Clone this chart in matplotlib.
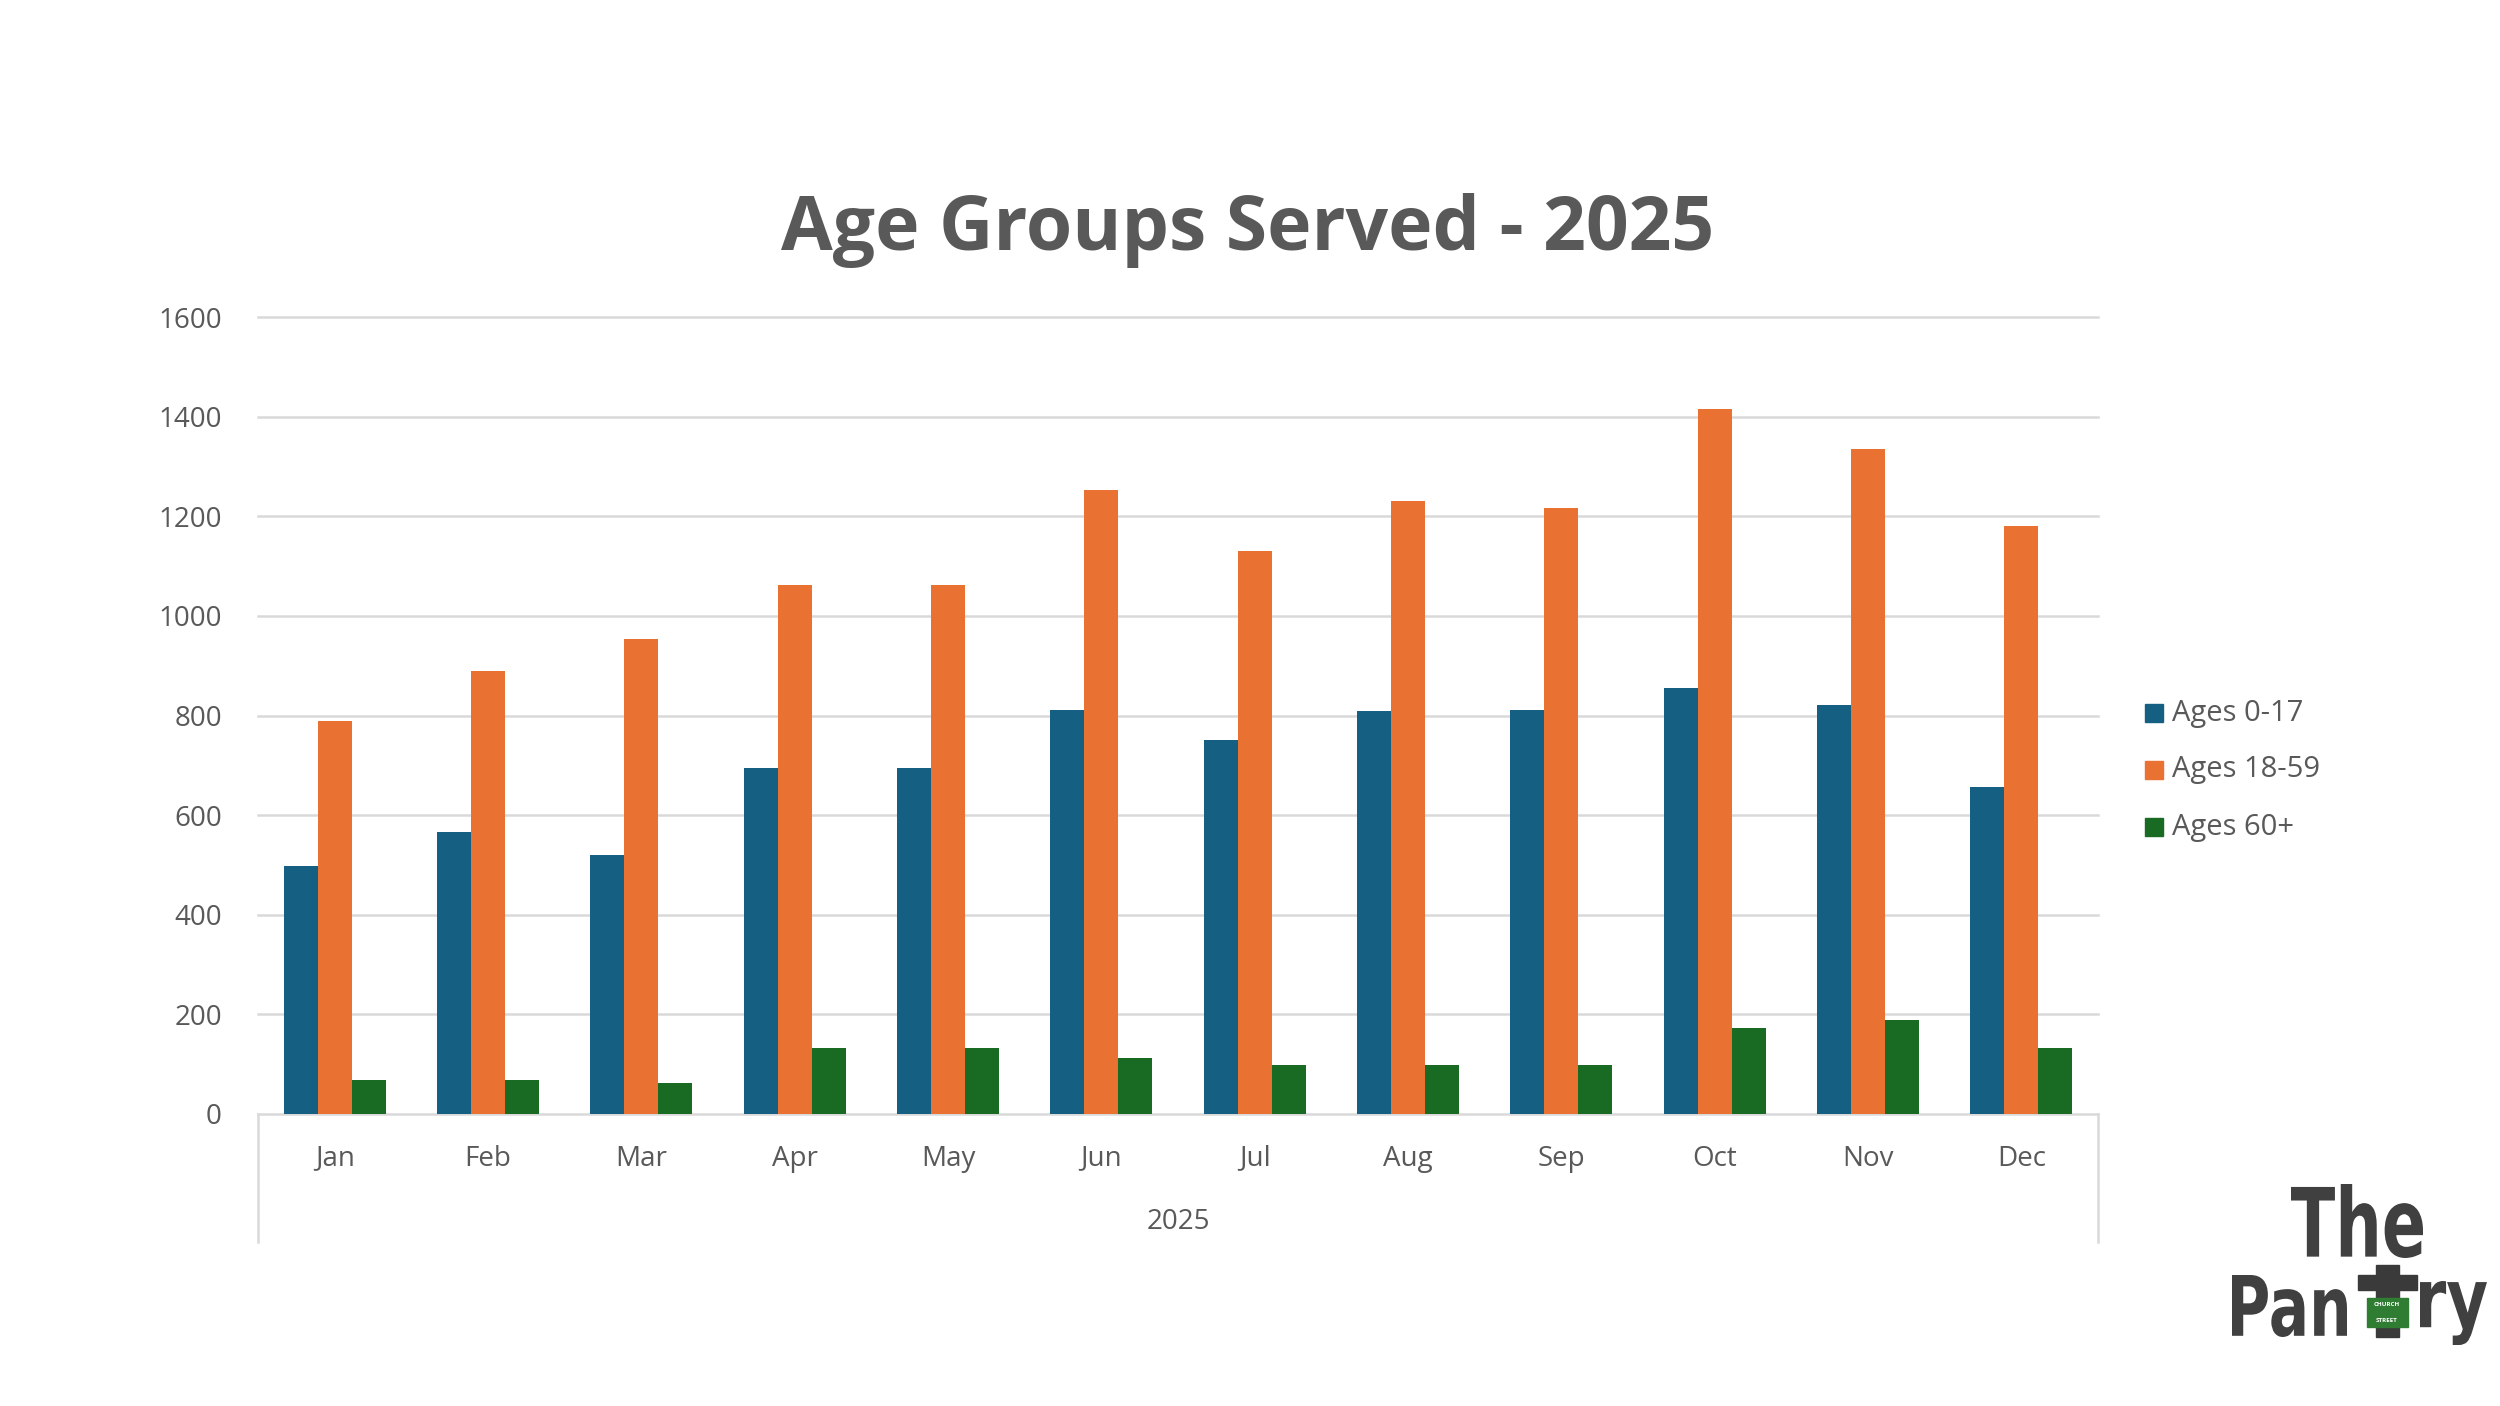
import numpy as np
import matplotlib.pyplot as plt
from matplotlib.patches import Rectangle, PathPatch
from matplotlib.textpath import TextPath
from matplotlib.font_manager import FontProperties
from matplotlib.transforms import Affine2D

# Monthly counts
months = ["Jan", "Feb", "Mar", "Apr", "May", "Jun", "Jul", "Aug", "Sep", "Oct", "Nov", "Dec"]
series_names = ["Ages 0-17", "Ages 18-59", "Ages 60+"]
ages_0_17 = [497, 566, 519, 694, 694, 812, 750, 809, 812, 855, 822, 657]
ages_18_59 = [789, 889, 953, 1062, 1062, 1253, 1130, 1230, 1217, 1415, 1335, 1181]
ages_60_plus = [68, 68, 62, 133, 133, 113, 99, 99, 99, 172, 189, 133]
year_label = "2025"
y_ticks = [0, 200, 400, 600, 800, 1000, 1200, 1400, 1600]

colors = ["#156082", "#E97132", "#196B24"]
text_color = "#595959"
grid_color = "#D9D9D9"

plt.rcParams['font.family'] = ['Open Sans', 'DejaVu Sans']

W, H = 2500, 1406
fig = plt.figure(figsize=(25, 14.06), dpi=100)
ax = fig.add_axes([258 / W, 1 - 1114 / H, (2098 - 258) / W, (1114 - 317) / H])

x = np.arange(len(months))
bar_w = 0.222
for i, (vals, c) in enumerate(zip([ages_0_17, ages_18_59, ages_60_plus], colors)):
    ax.bar(x + (i - 1) * bar_w, vals, width=bar_w, color=c, zorder=3)

ax.set_xlim(-0.5, len(months) - 0.5)
ax.set_ylim(0, 1600)
ax.set_yticks(y_ticks)
ax.set_xticks(x)
ax.set_xticklabels(months)
ax.tick_params(axis="both", length=0, labelsize=20, labelcolor=text_color)
ax.tick_params(axis="x", pad=22)
ax.tick_params(axis="y", pad=26)
for s in ax.spines.values():
    s.set_visible(False)
for t in y_ticks:
    ax.axhline(t, color=grid_color, lw=1.8, zorder=1, clip_on=False)

# multi-level category box under the axis
box_bottom = 1 - 1242 / H
axis_y = 1 - 1114 / H
for xe in [258 / W, 2098 / W]:
    fig.add_artist(plt.Line2D([xe, xe], [box_bottom, axis_y], color=grid_color, lw=1.8))
fig.text((258 + 2098) / 2 / W, 1 - 1222 / H, year_label, ha="center", va="center",
         fontsize=20, color=text_color)

# title
fig.text(1248 / W, 1 - 231 / H, "Age Groups Served - 2025", ha="center", va="center",
         fontsize=54, fontweight="bold", color=text_color)

# legend
for i, (name, c) in enumerate(zip(series_names, colors)):
    yc = 1 - (713 + i * 57) / H
    fig.add_artist(Rectangle((2145 / W, yc - 9 / H), 18 / W, 18 / H, color=c,
                             transform=fig.transFigure))
    fig.text(2172 / W, yc, name, ha="left", va="center", fontsize=21, color=text_color)


# logo: squeeze heavy text into the boxes it takes in the picture (pixel coords from top-left)
def fit_text(s, x0, x1, y_top, y_bot, color):
    path = TextPath((0, 0), s, size=100, prop=FontProperties(family="DejaVu Sans", weight="bold"))
    bb = path.get_extents()
    sx = (x1 - x0) / bb.width
    sy = (y_bot - y_top) / bb.height
    tr = (Affine2D().translate(-bb.x0, -bb.y0).scale(sx, sy).translate(x0, H - y_bot)
          + Affine2D().scale(1 / W, 1 / H) + fig.transFigure)
    fig.add_artist(PathPatch(path, facecolor=color, edgecolor="none", transform=tr))


def px_rect(x0, x1, y_top, y_bot, color):
    fig.add_artist(Rectangle((x0 / W, 1 - y_bot / H), (x1 - x0) / W, (y_bot - y_top) / H,
                             color=color, transform=fig.transFigure))


logo_color = "#404040"
fit_text("The", 2291, 2423, 1184, 1258, logo_color)
fit_text("Pan", 2232, 2347, 1275, 1337, logo_color)
fit_text("ry", 2420, 2487, 1281, 1345, logo_color)
px_rect(2376, 2399, 1265, 1337, "#3a3a3a")
px_rect(2358, 2417, 1275, 1290, "#3a3a3a")
px_rect(2367, 2408, 1298, 1327, "#2E7D32")
fig.text(2387 / W, 1 - 1305 / H, "CHURCH", ha="center", va="center", fontsize=4.5,
         color="white", fontweight="bold")
fig.text(2387 / W, 1 - 1320 / H, "STREET", ha="center", va="center", fontsize=4.5,
         color="white", fontweight="bold")

fig.savefig("out.png", dpi=100, facecolor="white")
